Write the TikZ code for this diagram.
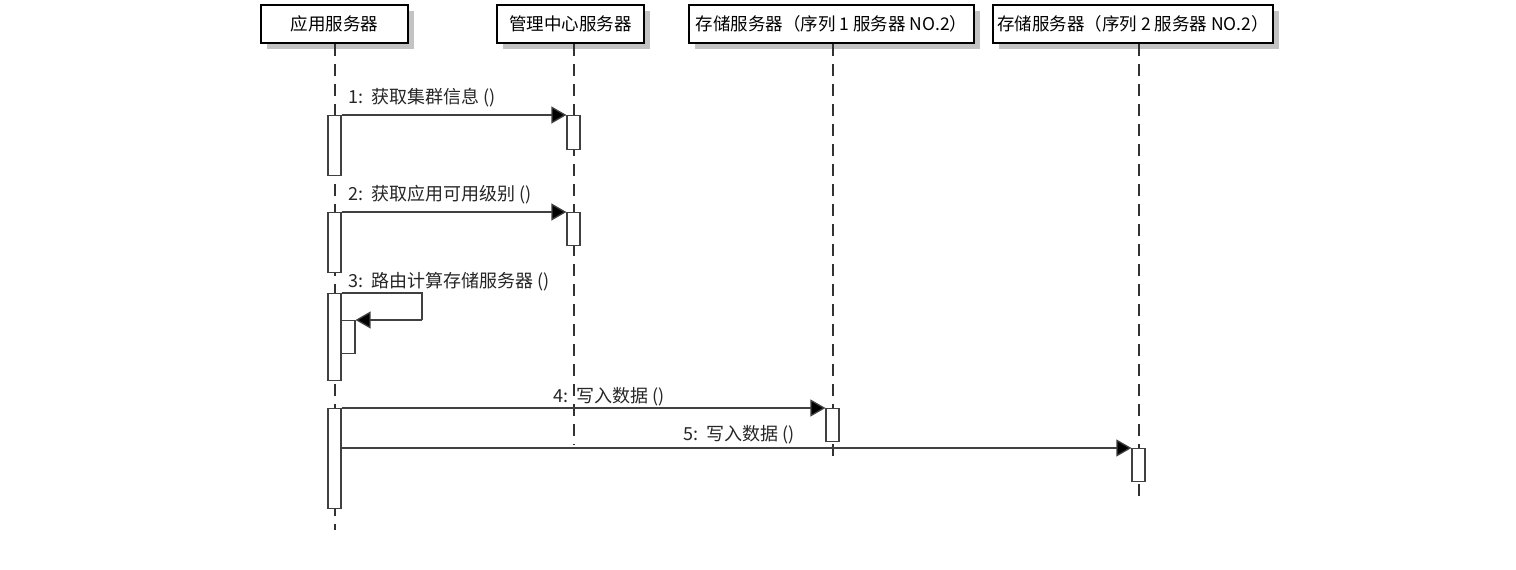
\documentclass[tikz,border=0pt]{standalone}
\usepackage{fontspec}
\setmainfont{Noto Sans CJK SC}
\usetikzlibrary{arrows.meta}
\definecolor{lifegray}{RGB}{50,50,50}
\definecolor{shadowgray}{RGB}{195,195,195}
\tikzset{
  header/.style={draw=black, line width=2.2pt, fill=white, minimum height=38pt, inner sep=0pt, font=\fontsize{17.5}{19}\selectfont},
  lifeline/.style={draw=lifegray, line width=2pt, dash pattern=on 12pt off 8pt},
  act/.style={draw=black!75, line width=1.2pt, fill=white, minimum width=13pt, inner sep=0pt},
  msg/.style={draw=black!75, line width=1.3pt, -{Triangle[length=15pt,width=17pt,fill=black]}},
  msgline/.style={draw=black!75, line width=1.3pt},
  lbl/.style={anchor=west, inner sep=0pt, font=\fontsize{18}{20}\selectfont, text=black!85},
}
\begin{document}
\begin{tikzpicture}[x=1pt,y=-1pt]
\useasboundingbox[fill=white] (0,0) rectangle (1516,570);
% header shadows
\fill[shadowgray] (267,11) rectangle (414,49);
\fill[shadowgray] (503,11) rectangle (650,49);
\fill[shadowgray] (695,11) rectangle (980,49);
\fill[shadowgray] (999,11) rectangle (1279,49);
% headers
\node[header, minimum width=147pt] (h1) at (334.5,24) {应用服务器};
\node[header, minimum width=147pt] (h2) at (570.5,24) {管理中心服务器};
\node[header, minimum width=285pt] (h3) at (831.5,24) {存储服务器（序列 1 服务器 NO.2）};
\node[header, minimum width=280pt] (h4) at (1133,24) {存储服务器（序列 2 服务器 NO.2）};
% lifeline ends
\coordinate (e1) at (334.5,530);
\coordinate (e2) at (573.5,445);
\coordinate (e3) at (832.5,462);
\coordinate (e4) at (1138.5,500);
\draw[lifeline] (h1.south -| e1) -- (e1);
\draw[lifeline] (h2.south -| e2) -- (e2);
\draw[lifeline] (h3.south -| e3) -- (e3);
\draw[lifeline] (h4.south -| e4) -- (e4);
% activations
\node[act, minimum height=60pt, anchor=north] (a1) at (334.5,115) {};
\node[act, minimum height=60pt, anchor=north] (a2) at (334.5,212) {};
\node[act, minimum height=87pt, anchor=north] (a3) at (334.5,293) {};
\node[act, minimum height=100pt, anchor=north] (a4) at (334.5,408) {};
\node[act, minimum height=34pt, anchor=north] (b1) at (573.5,115) {};
\node[act, minimum height=33pt, anchor=north] (b2) at (573.5,212) {};
\node[act, minimum height=33pt, anchor=north] (c1) at (832.5,408) {};
\node[act, minimum height=33pt, anchor=north] (d1) at (1138.5,448) {};
\node[act, minimum width=14pt, minimum height=33pt, anchor=north] (s1) at (348,320) {};
% messages
\draw[msg] (a1.north east) -- (b1.north west);
\draw[msg] (a2.north east) -- (b2.north west);
\coordinate (t1) at (422,293);
\coordinate (t2) at (422,320);
\draw[msgline] (a3.north east) -- (t1) -- (t2);
\draw[msg] (t2) -- (s1.north east);
\draw[msg] (a4.north east) -- (c1.north west);
\draw[msg] (a4.east |- d1.north) -- (d1.north west);
% labels
\node[lbl] (l1) at (348,98) {1:\ \ 获取集群信息 ()};
\node[lbl] (l2) at (348,195) {2:\ \ 获取应用可用级别 ()};
\node[lbl] (l3) at (348,282) {3:\ \ 路由计算存储服务器 ()};
\node[lbl] (l4) at (553,397) {4:\ \ 写入数据 ()};
\node[lbl] (l5) at (683,435) {5:\ \ 写入数据 ()};
\end{tikzpicture}
\end{document}
